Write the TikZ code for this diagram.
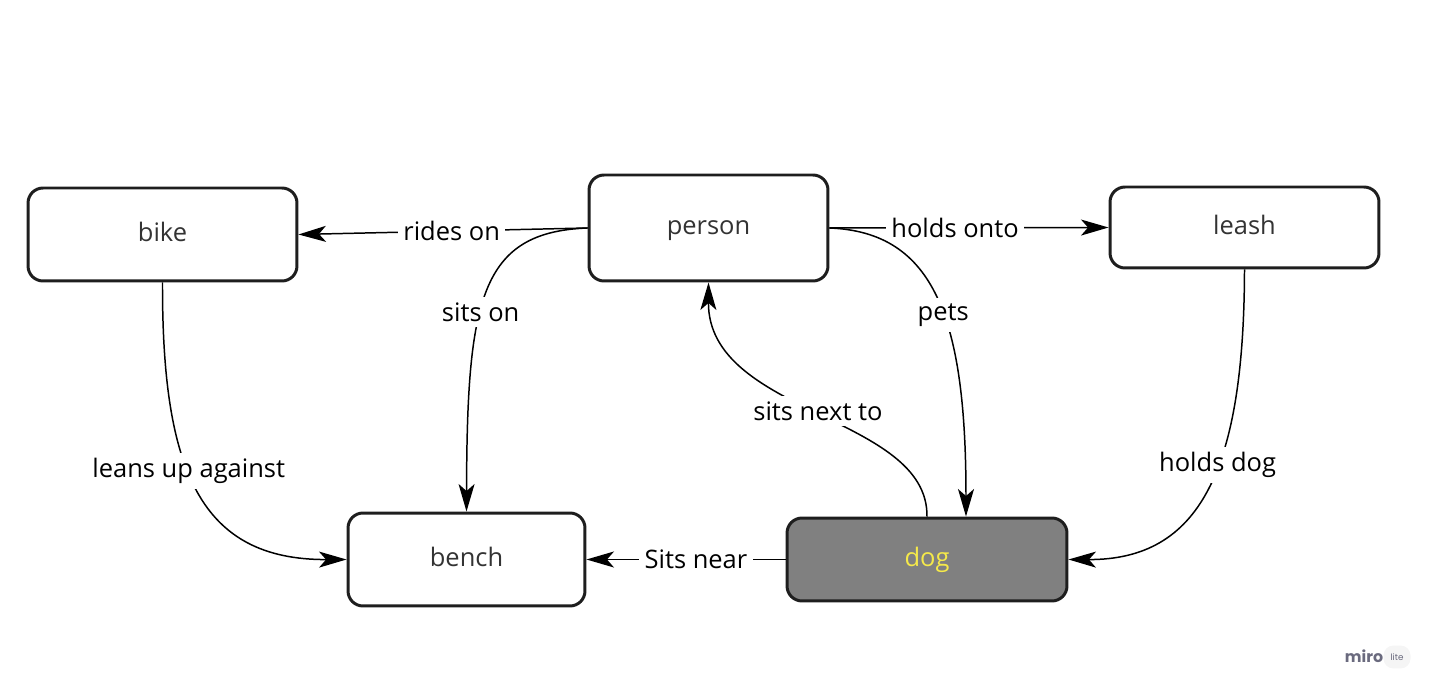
\documentclass[tikz,border=0pt]{standalone}
\usepackage{fontspec}
\setmainfont{Open Sans}
\newfontfamily\logofont{Poppins}
\usetikzlibrary{arrows.meta}

\definecolor{boxline}{HTML}{1E1E1E}
\definecolor{dogfill}{HTML}{808080}
\definecolor{dogtext}{HTML}{F5E94A}
\definecolor{nodetext}{HTML}{333333}
\definecolor{logogray}{HTML}{6A6A7E}

\begin{document}
\begin{tikzpicture}[x=0.02cm, y=-0.02cm,
		thing/.style={draw=boxline, line width=1.7pt, rounded corners=0.3cm, fill=white,
			text=nodetext, font=\fontsize{14.5}{17}\selectfont, text height=1.6ex, text depth=0.2ex},
		rel/.style={fill=white, inner sep=3pt, font=\fontsize{14.5}{17}\selectfont},
		link/.style={line width=0.85pt, -{Stealth[length=0.55cm, width=0.32cm, inset=0.14cm]}}]
		\useasboundingbox (0, 0) rectangle (1437, 695);

		\node[thing, minimum width=5.38cm, minimum height=1.86cm] (bike) at (162.5, 234.5) {bike};
		\node[thing, minimum width=4.78cm, minimum height=2.12cm] (person) at (708.5, 228) {person};
		\node[thing, minimum width=5.38cm, minimum height=1.62cm] (leash) at (1244.5, 227.5) {leash};
		\node[thing, minimum width=4.74cm, minimum height=1.86cm] (bench) at (466.5, 559.5) {bench};
		\node[thing, fill=dogfill, text=dogtext, minimum width=5.6cm, minimum height=1.66cm] (dog) at (927, 559.5) {dog};

		\coordinate (petsend) at ([xshift=0.78cm]dog.north);

		\draw[link] (person.west) -- node[rel, pos=0.47] {rides on} (bike.east);
		\draw[link] (person.east) -- node[rel, pos=0.45] {holds onto} (leash.west);
		\draw[link] (person.west) .. controls (480, 232) and (467, 300) .. node[rel, pos=0.57] {sits on} (bench.north);
		\draw[link] (person.east) .. controls (935, 232) and (966, 320) .. node[rel, pos=0.55] {pets} (petsend);
		\draw[link] (dog.north) .. controls (928, 415) and (708, 415) .. node[rel, pos=0.5] {sits next to} (person.south);
		\draw[link] (bike.south) .. controls (162, 470) and (200, 560) .. node[rel, pos=0.43] {leans up against} (bench.west);
		\draw[link] (leash.south) .. controls (1244, 470) and (1200, 560) .. node[rel, pos=0.42] {holds dog} (dog.east);
		\draw[link] (dog.west) -- node[rel, pos=0.45] {Sits near} (bench.east);

		\node[font=\logofont\bfseries\fontsize{9}{10}\selectfont, text=logogray, inner sep=0pt] (miro) at (1364, 656) {miro};
		\node[font=\logofont\fontsize{5}{6}\selectfont, text=logogray, fill=gray!8, rounded corners=0.2cm,
			minimum width=0.54cm, minimum height=0.46cm, inner sep=0pt] (lite) at (1397, 657) {lite};
	\end{tikzpicture}
\end{document}
